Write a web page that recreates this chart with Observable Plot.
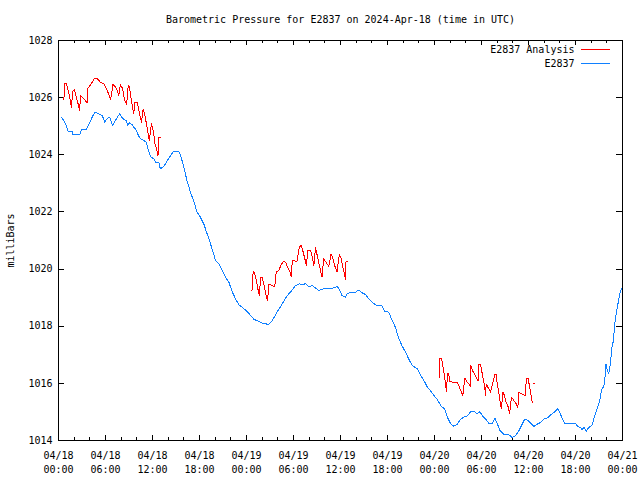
<!DOCTYPE html>
<html>
<head>
<meta charset="utf-8">
<script src="https://cdn.jsdelivr.net/npm/d3@7"></script>
<script src="https://cdn.jsdelivr.net/npm/@observablehq/plot@0.6"></script>
<style>
  html, body { margin: 0; padding: 0; background: #fff; }
  svg { display: block; }
</style>
</head>
<body>
<div id="chart"></div>
<script>
// ---- data (hours since 2024-04-18 00:00 UTC, pressure in mbar) ----
const titleText = "Barometric Pressure for E2837 on 2024-Apr-18 (time in UTC)";
const yLabel = "milliBars";
const seriesNames = ["E2837 Analysis", "E2837"];
const seriesColors = ["#ff0000", "#1080ff"];
const yTicks = [1014, 1016, 1018, 1020, 1022, 1024, 1026, 1028];

const stationHours = [0.34,0.68,0.9,1.2,1.75,1.83,2.7,3.0,3.6,3.9,4.1,4.4,4.7,5.15,5.6,5.9,6.2,6.55,6.9,7.3,7.6,7.8,8.0,8.25,8.65,8.85,9.05,9.4,9.6,9.9,10.1,10.45,10.9,11.2,11.45,11.75,12.15,12.4,12.8,13.0,13.45,13.9,14.3,14.7,15.3,15.6,16.0,16.2,16.4,16.85,17.3,17.7,18.1,18.55,18.9,19.2,19.6,20.05,20.5,20.9,21.3,21.75,22.2,22.6,23.0,23.65,24.3,24.95,25.6,26.0,26.85,27.3,27.9,28.55,29.2,29.85,30.25,30.7,31.3,31.5,31.95,32.4,32.8,33.25,33.8,34.5,35.15,35.6,35.8,36.2,36.65,36.85,37.3,37.9,38.35,38.8,39.2,39.6,40.05,40.5,41.3,41.6,42.15,42.6,43.0,43.45,43.85,44.3,44.7,45.15,45.8,46.2,46.65,47.05,47.7,48.35,48.9,49.3,49.6,50.05,50.45,50.85,51.2,51.65,52.2,52.6,53.1,53.45,53.8,54.1,54.5,54.95,55.4,55.7,56.0,56.35,56.85,57.5,57.9,58.35,58.8,59.2,59.55,59.95,60.3,60.7,61.15,61.6,62.0,62.4,62.9,63.3,63.7,64.0,64.3,64.65,66.0,66.3,66.6,66.85,67.1,67.4,67.7,68.1,68.4,68.75,69.1,69.3,69.55,69.7,69.9,70.05,70.25,70.5,70.6,70.85,71.0,71.3,71.5,71.7,71.9];
const stationValues = [1025.32,1025.20,1025.08,1024.83,1024.83,1024.71,1024.71,1024.90,1024.90,1025.08,1025.20,1025.37,1025.49,1025.43,1025.37,1025.14,1025.26,1025.32,1025.03,1025.22,1025.35,1025.43,1025.34,1025.26,1025.20,1025.03,1025.12,1025.06,1024.97,1024.87,1024.73,1024.56,1024.50,1024.44,1024.17,1023.94,1023.86,1023.74,1023.74,1023.51,1023.59,1023.80,1023.97,1024.13,1024.13,1023.97,1023.57,1023.33,1023.10,1022.69,1022.34,1021.99,1021.82,1021.58,1021.29,1021.06,1020.71,1020.30,1020.18,1019.95,1019.72,1019.54,1019.19,1018.96,1018.76,1018.62,1018.45,1018.24,1018.16,1018.11,1018.06,1018.20,1018.49,1018.78,1019.07,1019.27,1019.42,1019.48,1019.46,1019.50,1019.37,1019.42,1019.34,1019.25,1019.31,1019.31,1019.34,1019.39,1019.31,1019.07,1019.02,1019.13,1019.19,1019.19,1019.27,1019.16,1019.11,1018.96,1018.84,1018.74,1018.72,1018.53,1018.49,1018.20,1017.97,1017.56,1017.32,1017.09,1016.86,1016.62,1016.51,1016.29,1016.10,1015.89,1015.66,1015.43,1015.18,1015.11,1014.84,1014.59,1014.50,1014.55,1014.70,1014.81,1014.86,1015.01,1015.01,1014.93,1015.01,1014.87,1014.76,1014.60,1014.60,1014.79,1014.60,1014.35,1014.21,1014.20,1014.11,1014.17,1014.35,1014.58,1014.76,1014.70,1014.60,1014.49,1014.58,1014.64,1014.76,1014.79,1014.91,1014.99,1015.11,1014.99,1014.76,1014.60,1014.60,1014.49,1014.46,1014.38,1014.46,1014.33,1014.46,1014.52,1014.81,1015.11,1015.40,1015.75,1015.87,1015.98,1016.68,1016.45,1016.33,1016.80,1017.21,1017.50,1018.08,1018.60,1018.90,1019.19,1019.31];

// analysis: three runs, each run has its own id
const analysisRun = [
  1,1,1,1,1,1,1,1,1,1,1,1,1,1,1,1,1,1,1,1,1,1,1,1,1,1,1,1,1,1,1,1,1,1,1,1,1,1,1,1,1,1,1,1,1,1,1,1,1,1,1,1,
  2,2,2,2,2,2,2,2,2,2,2,2,2,2,2,2,2,2,2,2,2,2,2,2,2,2,2,2,2,2,2,2,2,2,2,2,2,2,2,2,2,2,2,2,2,2,2,2,2,2,2,2,
  3,3,3,3,3,3,3,3,3,3,3,3,3,3,3,3,3,3,3,3,3,3,3,3,3,3,3,3,3,3,3,3,3,3,3,3,3,3,3,3,3,3,3,3,3,3,3,3,3,3
];
const analysisHours = [
  0.68,0.8,0.97,1.25,1.5,1.65,1.83,2.05,2.25,2.45,2.7,2.8,3.0,3.35,3.65,3.75,3.95,4.3,4.65,4.95,5.35,5.8,6.1,6.4,6.65,6.95,7.3,7.5,7.7,7.9,8.2,8.4,8.7,8.9,9.05,9.3,9.6,9.75,10.05,10.25,10.6,10.8,11.0,11.3,11.6,11.85,12.1,12.3,12.5,12.7,12.8,13.0,
  24.7,24.85,25.0,25.25,25.45,25.65,25.8,26.0,26.2,26.5,26.7,26.85,27.3,27.6,27.8,28.1,28.4,28.7,28.98,29.3,29.55,29.7,29.85,30.45,30.75,30.98,31.24,31.5,31.65,31.83,32.2,32.4,32.6,32.8,33.03,33.25,33.5,33.65,33.85,34.15,34.5,34.8,35.05,35.25,35.55,35.85,36.07,36.3,36.5,36.65,36.7,36.9,
  48.64,48.65,48.9,49.06,49.28,49.4,49.53,49.66,49.83,49.92,50.47,50.9,51.19,51.45,51.61,51.87,52.18,52.38,52.6,52.63,52.85,53.58,53.66,53.87,54.42,54.5,54.6,55.15,55.7,55.92,56.0,56.2,56.43,56.55,56.72,56.94,57.15,57.41,57.58,57.83,58.13,58.43,58.64,58.77,59.11,59.62,59.71,59.96,60.26,60.47,60.64,60.8
];
const analysisValues = [
  1025.92,1026.50,1026.50,1026.25,1025.92,1025.67,1026.23,1026.27,1026.04,1025.84,1025.55,1026.07,1026.02,1025.92,1025.81,1026.34,1026.39,1026.54,1026.69,1026.66,1026.54,1026.48,1026.31,1026.13,1025.92,1026.46,1026.37,1026.25,1026.07,1026.46,1026.31,1025.96,1025.75,1026.43,1026.37,1025.90,1025.43,1025.84,1025.84,1025.55,1025.14,1025.61,1025.43,1024.97,1024.50,1025.08,1024.85,1024.41,1024.21,1023.97,1024.59,1024.59,
  1019.25,1019.92,1019.88,1019.60,1019.31,1019.07,1019.72,1019.72,1019.48,1019.07,1018.90,1019.48,1019.42,1019.39,1019.89,1019.95,1020.13,1020.27,1020.24,1020.04,1019.89,1019.74,1020.30,1020.27,1020.77,1020.83,1020.59,1020.30,1020.13,1020.67,1020.65,1020.42,1020.13,1020.74,1020.48,1020.18,1019.89,1019.72,1020.36,1020.24,1020.09,1020.53,1020.36,1020.13,1019.89,1020.51,1020.39,1020.06,1019.83,1019.62,1020.26,1020.26,
  1016.21,1016.86,1016.86,1016.62,1016.27,1015.98,1015.71,1016.33,1016.33,1016.06,1016.04,1016.04,1015.86,1015.69,1015.57,1016.19,1016.04,1015.98,1015.89,1016.62,1016.45,1016.08,1016.66,1016.66,1015.87,1015.57,1015.98,1015.69,1016.31,1016.31,1015.98,1015.69,1015.28,1015.11,1015.69,1015.57,1015.34,1015.17,1014.93,1015.52,1015.40,1015.28,1015.14,1015.69,1015.63,1015.57,1016.16,1016.16,1015.69,1015.34,1015.98,1015.98
];

// ---- build tables ----
const t0 = Date.UTC(2024, 3, 18);
const t3 = Date.UTC(2024, 3, 21);
const toDate = h => new Date(t0 + h * 3600e3);
const station = stationHours.map((h, i) => ({t: toDate(h), v: stationValues[i]}));
const analysis = analysisHours.map((h, i) => ({t: toDate(h), v: analysisValues[i], run: analysisRun[i]}));

const majorTicks = d3.utcHour.every(6).range(new Date(t0), new Date(t3 + 1));
const minorTicks = d3.utcHour.every(2).range(new Date(t0), new Date(t3 + 1));

const W = 640, H = 480, mL = 58, mR = 18, mT = 40, mB = 40;
const innerW = W - mL - mR, innerH = H - mT - mB;

const chart = Plot.plot({
  width: W, height: H,
  marginLeft: mL, marginRight: mR, marginTop: mT, marginBottom: mB,
  style: {fontFamily: "'DejaVu Sans Mono', monospace", fontSize: "10px", background: "#fff", color: "#000"},
  x: {type: "utc", domain: [new Date(t0), new Date(t3)]},
  y: {domain: [1014, 1028]},
  marks: [
    Plot.axisX({ticks: majorTicks, tickSize: 0, tickPadding: 9, lineHeight: 1.4,
      tickFormat: d3.utcFormat("%m/%d\n%H:%M"), label: null, fill: "#000"}),
    Plot.axisY({ticks: yTicks, tickSize: 0, tickPadding: 6, tickFormat: d => String(d),
      label: yLabel, labelAnchor: "center", labelOffset: 52, labelArrow: "none", fill: "#000"}),
    // inward ticks (gnuplot style)
    Plot.tickX(majorTicks, {x: d => d, insetTop: innerH - 5, stroke: "#000"}),
    Plot.tickX(majorTicks, {x: d => d, insetBottom: innerH - 5, stroke: "#000"}),
    Plot.tickX(minorTicks, {x: d => d, insetTop: innerH - 3, stroke: "#000"}),
    Plot.tickX(minorTicks, {x: d => d, insetBottom: innerH - 3, stroke: "#000"}),
    Plot.tickY(yTicks, {y: d => d, insetRight: innerW - 6, stroke: "#000"}),
    Plot.tickY(yTicks, {y: d => d, insetLeft: innerW - 6, stroke: "#000"}),
    Plot.line(station, {x: "t", y: "v", stroke: seriesColors[1], strokeWidth: 1}),
    Plot.line(analysis, {x: "t", y: "v", z: "run", stroke: seriesColors[0], strokeWidth: 1}),
    Plot.frame({stroke: "#000"}),
    Plot.text([titleText], {frameAnchor: "top", dy: -21, lineAnchor: "middle", fill: "#000"}),
    Plot.text([seriesNames[0]], {frameAnchor: "top-right", dx: -48, dy: 9, lineAnchor: "middle", textAnchor: "end", fill: "#000"}),
    Plot.text([seriesNames[1]], {frameAnchor: "top-right", dx: -48, dy: 23, lineAnchor: "middle", textAnchor: "end", fill: "#000"})
  ]
});

// legend line samples
const svg = d3.select(chart);
const legendX1 = W - mR - 41, legendX2 = W - mR - 12;
seriesColors.forEach((c, i) => {
  svg.append("line")
    .attr("x1", legendX1).attr("x2", legendX2)
    .attr("y1", mT + 9 + 14 * i).attr("y2", mT + 9 + 14 * i)
    .attr("stroke", c).attr("stroke-width", 1);
});
svg.selectAll("path, line, rect").attr("shape-rendering", "crispEdges");

document.getElementById("chart").appendChild(chart);
</script>
</body>
</html>
